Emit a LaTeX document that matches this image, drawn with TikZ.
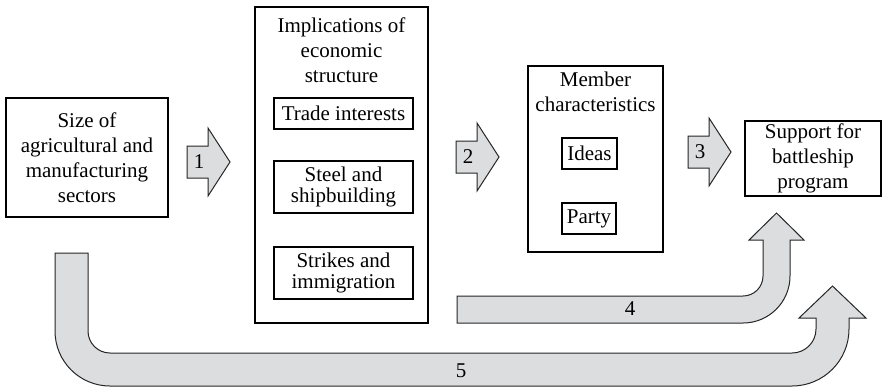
\documentclass[tikz,border=0pt]{standalone}
\usepackage{fontspec}
\setmainfont{Liberation Serif}
\definecolor{arrowgray}{RGB}{220,221,223}
\tikzset{
  box/.style={draw,line width=0.7pt,align=center,inner sep=0pt,
    font=\fontsize{10.5}{12.5}\selectfont},
  subbox/.style={box,font=\fontsize{10.5}{10.6}\selectfont},
  title/.style={align=center,inner sep=0pt,font=\fontsize{10.5}{12.5}\selectfont},
  fatarrow/.style={draw=black!85,fill=arrowgray,line width=0.5pt},
  num/.style={inner sep=0pt,font=\fontsize{10.5}{12}\selectfont}
}

\begin{document}
\begin{tikzpicture}[x=0.5pt,y=-0.5pt]
    \useasboundingbox (0,0) rectangle (883,388);

    % long arrows
    \filldraw[fatarrow] % 5: sectors -> support
      (55,253) -- (88,253) -- (88,331)
      arc[start angle=180,end angle=90,radius=22] -- (792,353)
      arc[start angle=90,end angle=0,radius=24] -- (816,318) -- (799,318)
      -- (832.5,286) -- (866,318) -- (849,318) -- (849,329)
      arc[start angle=0,end angle=90,radius=57] -- (110,386)
      arc[start angle=90,end angle=180,radius=55] -- cycle;
    \node[num] (n5) at (461,371) {5};
    \filldraw[fatarrow] % 4: implications -> support
      (457,296) -- (743,296)
      arc[start angle=90,end angle=0,radius=20] -- (763,240) -- (749,240)
      -- (776.5,213) -- (804,240) -- (790,240) -- (790,276)
      arc[start angle=0,end angle=90,radius=47] -- (457,323) -- cycle;
    \node[num] (n4) at (630,309) {4};

    % boxes
    \node[box,minimum width=81pt,minimum height=59.5pt] (size) at (87,157.5)
      {Size of\\agricultural and\\manufacturing\\sectors};
    \node[box,minimum width=86.5pt,minimum height=158pt] (impl) at (341.5,165) {};
    \node[title] (impltitle) at (341.5,50) {Implications of\\economic\\structure};
    \node[box,minimum width=69.5pt,minimum height=15.5pt] (trade) at (343.5,113.5) {Trade interests};
    \node[subbox,minimum width=69.5pt,minimum height=26pt] (steel) at (343.5,187) {Steel and\\shipbuilding};
    \node[subbox,minimum width=69.5pt,minimum height=26pt] (strikes) at (343.5,273) {Strikes and\\immigration};
    \node[box,minimum width=67.5pt,minimum height=93pt] (member) at (595.5,159) {};
    \node[title] (membertitle) at (595.5,92) {Member\\characteristics};
    \node[box,minimum width=27.5pt,minimum height=15.5pt] (ideas) at (589.5,153.5) {Ideas};
    \node[box,minimum width=27pt,minimum height=15.5pt] (party) at (589,218.5) {Party};
    \node[box,minimum width=68pt,minimum height=37.5pt] (support) at (813,158.5)
      {Support for\\battleship\\program};

    % short arrows
    \foreach \x/\y/\n in {187/162/1,456/157/2,688/152/3}{
      \filldraw[fatarrow,shift={(\x,\y)}]
        (0,-16) -- (21,-16) -- (21,-34) -- (43,0) -- (21,34) -- (21,16) -- (0,16) -- cycle;
      \node[num] (arr\n) at (\x+12,\y) {\n};
    }

\end{tikzpicture}
\end{document}
